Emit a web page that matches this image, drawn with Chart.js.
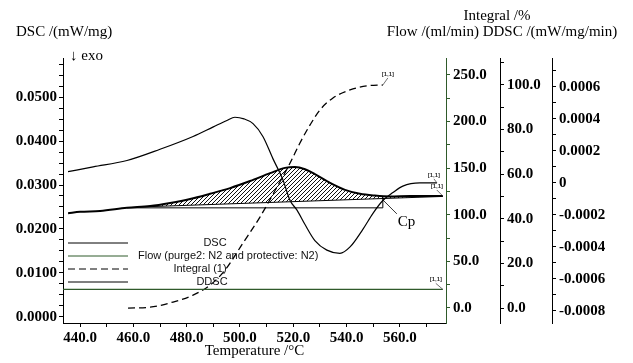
<!DOCTYPE html>
<html>
<head>
<meta charset="utf-8">
<script src="https://cdn.jsdelivr.net/npm/chart.js@4.4.1/dist/chart.umd.min.js"></script>
<style>
html, body { margin: 0; padding: 0; background: #fff; }
</style>
</head>
<body>
<canvas id="chartDsc" width="633" height="363"></canvas>
<script>
const chartDsc = document.getElementById("chartDsc");

// Data
const xRange = [433.6, 577.3];
const dscRange = [-0.0014, 0.0589];
const flowRange = [-16.1, 268.2];
const integralRange = [-6.7, 112.1];
const ddscRange = [-0.000875, 0.00078];

const dscT = [435.5, 440, 447.5, 457.6, 466.3, 473.8, 481.3, 488.8, 496.3, 503.8, 511.3, 516.9, 520.6, 524.4, 528.1, 533.8, 539.4, 545.0, 550.6, 556.3, 563.8, 571.3, 576.1];
const dscVal = [0.0236, 0.0239, 0.0241, 0.0248, 0.0252, 0.0259, 0.0268, 0.0280, 0.0293, 0.0309, 0.0327, 0.0339, 0.0341, 0.0336, 0.0325, 0.0305, 0.0289, 0.0280, 0.0276, 0.0274, 0.0275, 0.0275, 0.0275];

const baselineT = [462.5, 576.1];
const baselineVal = [0.0250, 0.0274];

const cpT = [457.6, 553.6, 553.6];
const cpVal = [0.0248, 0.0248, 0.0273];

const flowT = [433.6, 576.1];
const flowVal = [20, 20];

const integralT = [458.0, 466.3, 474.9, 482.4, 488.8, 494.4, 501.1, 507.5, 513.9, 518.8, 522.5, 526.3, 530.0, 534.9, 541.3, 547.6, 553.6];
const integralVal = [0, 0.4, 2.7, 5.8, 10.3, 17.0, 29.1, 40.8, 54.3, 65.0, 74.0, 82.1, 88.8, 94.2, 97.8, 99.6, 100.0];

const ddscT = [435.5, 444.9, 457.6, 470.0, 482.4, 490.0, 495.1, 498.1, 501.5, 504.9, 508.6, 512.4, 516.1, 518.8, 521.4, 524.4, 528.1, 532.6, 537.5, 541.3, 546.1, 549.9, 553.6, 557.4, 561.1, 567.5, 573.9];
const ddscVal = [0.00007, 0.00010, 0.00014, 0.00021, 0.00029, 0.00035, 0.00039, 0.00041, 0.00040, 0.00037, 0.00029, 0.00015, 0.00002, -0.00011, -0.00017, -0.00026, -0.00036, -0.00042, -0.00044, -0.00040, -0.00029, -0.00019, -0.00011, -0.00006, -0.00002, 0.0, 0.0];

const legendLabels = ["DSC", "Flow (purge2: N2 and protective: N2)", "Integral (1)", "DDSC"];

function toPoints(xs, ys) {
	return xs.map(function(x, i) { return { x: x, y: ys[i] }; });
}

const serif = '"Liberation Serif", "Times New Roman", serif';
const sans = '"Liberation Sans", Arial, sans-serif';
const tickFont = { family: serif, size: 15, weight: 'bold' };
const flowGreen = '#2f5a2a';

// hatch pattern for the peak area
const hatchCanvas = document.createElement('canvas');
hatchCanvas.width = 4;
hatchCanvas.height = 4;
const hctx = hatchCanvas.getContext('2d');
hctx.strokeStyle = '#111';
hctx.lineWidth = 1;
hctx.beginPath();
hctx.moveTo(0, 4); hctx.lineTo(4, 0);
hctx.moveTo(-1, 1); hctx.lineTo(1, -1);
hctx.moveTo(3, 5); hctx.lineTo(5, 3);
hctx.stroke();
const hatch = chartDsc.getContext('2d').createPattern(hatchCanvas, 'repeat');

function majorLabel(step, digits, zeroPlain) {
	return function(v) {
		const r = v / step;
		if (Math.abs(r - Math.round(r)) > 1e-6) return '';
		if (zeroPlain && Math.abs(v) < 1e-12) return '0';
		if (Math.abs(v) < 1e-12) v = 0;
		return v.toFixed(digits);
	};
}

function yAxis(position, range, step, labelStep, digits, width, color, zeroPlain) {
	return {
		type: 'linear',
		position: position,
		min: range[0],
		max: range[1],
		grid: { drawOnChartArea: false, drawTicks: true, tickLength: 4, color: color },
		border: { display: true, color: color, width: 1 },
		ticks: {
			stepSize: step,
			includeBounds: false,
			autoSkip: false,
			padding: position == 'left' ? 2 : 3,
			color: '#000',
			font: tickFont,
			callback: majorLabel(labelStep, digits, zeroPlain)
		},
		afterFit: function(scale) { scale.width = width; }
	};
}

const textPlugin = {
	id: 'dscText',
	afterDraw: function(chart) {
		const ctx = chart.ctx;
		const area = chart.chartArea;
		const sx = chart.scales.x;
		ctx.save();
		ctx.fillStyle = '#000';
		ctx.textBaseline = 'middle';

		// axis titles
		ctx.font = '15px ' + serif;
		ctx.textAlign = 'left';
		ctx.fillText('DSC /(mW/mg)', 16, 32);
		ctx.fillText('\u2193 exo', 70, 56);
		ctx.textAlign = 'center';
		ctx.fillText('Integral /%', 497, 16);
		ctx.fillText('Flow /(ml/min) DDSC /(mW/mg/min)', 502, 32);
		ctx.fillText('Temperature /\u00B0C', (area.left + area.right) / 2, 351);

		// legend
		const rows = [
			{ color: '#000', dash: [], tx: 215, align: 'center' },
			{ color: flowGreen, dash: [], tx: 138, align: 'left' },
			{ color: '#000', dash: [7, 4], tx: 200, align: 'center' },
			{ color: '#000', dash: [], tx: 212, align: 'center' }
		];
		ctx.font = '11px ' + sans;
		rows.forEach(function(row, i) {
			const y = 243 + i * 13;
			ctx.strokeStyle = row.color;
			ctx.lineWidth = 1;
			ctx.setLineDash(row.dash);
			ctx.beginPath();
			ctx.moveTo(68, y);
			ctx.lineTo(128, y);
			ctx.stroke();
			ctx.setLineDash([]);
			ctx.textAlign = row.align;
			ctx.fillStyle = '#111';
			ctx.fillText(legendLabels[i], row.tx, y);
		});

		// [1,1] end marks
		function endMark(xs, ys, axisId, dx, dy) {
			const px = sx.getPixelForValue(xs[xs.length - 1]);
			const py = chart.scales[axisId].getPixelForValue(ys[ys.length - 1]);
			ctx.strokeStyle = '#333';
			ctx.lineWidth = 0.7;
			ctx.beginPath();
			ctx.moveTo(px, py);
			ctx.lineTo(px + dx, py + dy);
			ctx.stroke();
			ctx.font = 'bold 6px ' + sans;
			ctx.textAlign = 'center';
			ctx.fillStyle = '#333';
			ctx.fillText('[1,1]', px + dx, py + dy - 4);
		}
		endMark(integralT, integralVal, 'yInt', 5, -7);
		endMark(ddscT, ddscVal, 'yDdsc', -3, -4);
		endMark(dscT, dscVal, 'y', -6, -6);
		endMark(flowT, flowVal, 'yFlow', -7, -6);

		// Cp marker
		const cx = sx.getPixelForValue(cpT[1]);
		const cy = chart.scales.y.getPixelForValue(cpVal[2]);
		ctx.strokeStyle = '#000';
		ctx.lineWidth = 0.8;
		ctx.beginPath();
		ctx.moveTo(cx, cy + 3);
		ctx.lineTo(cx + 14, cy + 17);
		ctx.stroke();
		ctx.font = '15px ' + serif;
		ctx.textAlign = 'left';
		ctx.fillStyle = '#000';
		ctx.fillText('Cp', cx + 15, cy + 25);
		ctx.restore();
	}
};

const dscChart = new Chart(chartDsc, {
	type: 'line',
	data: {
		datasets: [
			{
				label: 'DSC',
				data: toPoints(dscT, dscVal),
				yAxisID: 'y',
				borderColor: '#000',
				borderWidth: 2,
				cubicInterpolationMode: 'monotone',
				fill: { target: 1, above: hatch, below: 'rgba(0,0,0,0)' }
			},
			{
				label: 'baseline',
				data: toPoints(baselineT, baselineVal),
				yAxisID: 'y',
				borderColor: '#000',
				borderWidth: 1,
				fill: false
			},
			{
				label: 'Cp',
				data: toPoints(cpT, cpVal),
				yAxisID: 'y',
				borderColor: '#000',
				borderWidth: 1,
				fill: false
			},
			{
				label: legendLabels[1],
				data: toPoints(flowT, flowVal),
				yAxisID: 'yFlow',
				borderColor: flowGreen,
				borderWidth: 1.2,
				fill: false
			},
			{
				label: legendLabels[2],
				data: toPoints(integralT, integralVal),
				yAxisID: 'yInt',
				borderColor: '#000',
				borderWidth: 1.3,
				borderDash: [7, 4],
				cubicInterpolationMode: 'monotone',
				fill: false
			},
			{
				label: legendLabels[3],
				data: toPoints(ddscT, ddscVal),
				yAxisID: 'yDdsc',
				borderColor: '#000',
				borderWidth: 1.2,
				cubicInterpolationMode: 'monotone',
				fill: false
			}
		]
	},
	options: {
		responsive: false,
		animation: false,
		events: [],
		layout: { padding: { top: 58, left: 0, right: 0, bottom: 0 } },
		elements: { point: { radius: 0 } },
		plugins: {
			legend: { display: false },
			tooltip: { enabled: false }
		},
		scales: {
			x: {
				type: 'linear',
				position: 'bottom',
				min: xRange[0],
				max: xRange[1],
				grid: { drawOnChartArea: false, drawTicks: true, tickLength: 4, color: '#000' },
				border: { display: true, color: '#000', width: 1 },
				ticks: {
					stepSize: 10,
					includeBounds: false,
					autoSkip: false,
					maxRotation: 0,
					padding: 2,
					color: '#000',
					font: tickFont,
					callback: majorLabel(20, 1)
				},
				afterFit: function(scale) { scale.height = 40; }
			},
			y: yAxis('left', dscRange, 0.0025, 0.01, 4, 63, '#000'),
			yFlow: yAxis('right', flowRange, 25, 50, 1, 54, flowGreen),
			yInt: yAxis('right', integralRange, 10, 20, 1, 52, '#000'),
			yDdsc: yAxis('right', ddscRange, 0.0001, 0.0002, 4, 81, '#000', true)
		}
	},
	plugins: [textPlugin]
});
</script>
</body>
</html>
